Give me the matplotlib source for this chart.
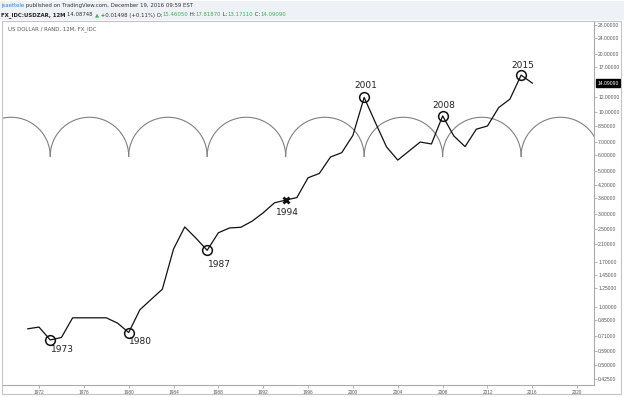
#!/usr/bin/env python3
"""USD/ZAR yearly chart with 7-year cycle arcs (TradingView style)."""

import numpy as np
import matplotlib
matplotlib.use("Agg")
import matplotlib.pyplot as plt
from matplotlib.patches import Rectangle

W, H = 624, 397

# yearly closes
years = list(range(1971, 2017))
closes = [0.77, 0.786, 0.675, 0.695, 0.877, 0.877, 0.877, 0.877, 0.824, 0.737,
          0.965, 1.09, 1.23, 1.98, 2.57, 2.25, 1.95, 2.40, 2.54, 2.56,
          2.75, 3.04, 3.42, 3.53, 3.64, 4.60, 4.84, 5.88, 6.19, 7.60,
          11.9, 8.84, 6.62, 5.67, 6.31, 7.02, 6.86, 9.56, 7.54, 6.65,
          8.17, 8.49, 10.56, 11.66, 15.5, 14.09]

circled_years = [1973, 1980, 1987, 2001, 2008, 2015]
cross_year = 1994

# cycle arcs: cusps every 7 years
cycle_start = 1966
cycle_len = 7
cycle_count = 8
arc_base = 5.93
arc_top = 9.41

y_ticks = [28, 24, 20, 17, 12, 10, 8.5, 7, 6, 5, 4.2, 3.6, 3.0, 2.5, 2.1,
           1.7, 1.45, 1.25, 1.0, 0.85, 0.71, 0.59, 0.5, 0.425]
x_ticks = list(range(1972, 2021, 4))
last_price = 14.0909

GREEN = "#3dae5a"
GREY_TXT = "#555555"
FRAME = "#c4c4c4"


def place_row(fig, x_px, y_px, pieces, size):
    """Draw text pieces one after another on a single line."""
    renderer = fig.canvas.get_renderer()
    x = x_px
    for s, color, weight in pieces:
        t = fig.text(x / W, 1 - y_px / H, s, color=color, fontsize=size,
                     fontweight=weight, ha="left", va="center",
                     family="DejaVu Sans")
        bb = t.get_window_extent(renderer)
        x += bb.width


fig = plt.figure(figsize=(W / 100, H / 100), dpi=100)
fig.patch.set_facecolor("white")

# header band
fig.patches.append(Rectangle((0, 1 - 20 / H), 1, 19 / H, transform=fig.transFigure,
                             facecolor="#eef1f5", edgecolor="none", zorder=0))
# outer frame
fig.patches.append(Rectangle((2 / W, 1 - 394 / H), 619 / W, 373 / H,
                             transform=fig.transFigure, facecolor="none",
                             edgecolor=FRAME, linewidth=0.8, zorder=5))

ax = fig.add_axes([2 / W, 1 - 385 / H, 592 / W, 364 / H])
ax.set_yscale("log")
ax.set_xlim(1968.7, 2021.5)
ax.set_ylim(0.396, 29.4)

# arcs
for k in range(cycle_count):
    c = cycle_start + k * cycle_len
    t = np.linspace(np.pi, 0, 120)
    xs = c + cycle_len / 2 + cycle_len / 2 * np.cos(t)
    ys = np.exp(np.log(arc_base) + np.log(arc_top / arc_base) * np.sin(t))
    ax.plot(xs, ys, color="#808080", lw=0.8, zorder=2)

ax.plot(years, closes, color="#111111", lw=0.9, zorder=3)

cy = [closes[years.index(y)] for y in circled_years]
ax.plot(circled_years, cy, "o", ms=7, mfc="none", mec="#111111", mew=1.1, zorder=4)
ax.plot([cross_year], [closes[years.index(cross_year)]], "x", ms=5, mec="#111111",
        mew=2.0, zorder=4)

label_offsets = {1973: (0.5, -7, "left"), 1980: (0.5, -6.5, "left"),
                 1987: (0.5, -10.3, "left"), 1994: (1, -8.6, "center"),
                 2001: (1, 8.9, "center"), 2008: (1, 7.2, "center"),
                 2015: (1, 7.2, "center")}
for yr, (dx, dy, ha) in label_offsets.items():
    ax.annotate(str(yr), (yr, closes[years.index(yr)]), xytext=(dx, dy),
                textcoords="offset points", ha=ha, va="center", fontsize=6.5,
                color="#222222", family="DejaVu Sans")

# axes styling
for side in ["left", "top"]:
    ax.spines[side].set_visible(False)
for side in ["right", "bottom"]:
    ax.spines[side].set_color("#aaaaaa")
    ax.spines[side].set_linewidth(0.8)

ax.yaxis.tick_right()
ax.set_yticks(y_ticks)
ax.set_yticklabels([f"{v:.5f}" for v in y_ticks])
ax.yaxis.set_minor_locator(matplotlib.ticker.NullLocator())
ax.tick_params(axis="y", which="major", length=2, width=0.5, color="#999999",
               labelsize=3.6, labelcolor=GREY_TXT, pad=1)
ax.set_xticks(x_ticks)
ax.set_xticklabels([str(x) for x in x_ticks])
ax.tick_params(axis="x", length=2, width=0.5, color="#999999", labelsize=3.4,
               labelcolor=GREY_TXT, pad=1.5)
for lab in ax.get_yticklabels() + ax.get_xticklabels():
    lab.set_family("Liberation Sans")

# last price tag
ax.annotate(f"{last_price:.5f}", (1, last_price), xycoords=("axes fraction", "data"),
            xytext=(2.5, 0), textcoords="offset points", ha="left", va="center",
            fontsize=3.6, color="white", family="Liberation Sans",
            bbox=dict(boxstyle="square,pad=0.25", fc="black", ec="black"),
            annotation_clip=False)

ax.text(6 / 592, 1 - 8 / 364, "US DOLLAR / RAND, 12M, FX_IDC", transform=ax.transAxes,
        ha="left", va="center", fontsize=3.9, color=GREY_TXT, family="DejaVu Sans")

fig.canvas.draw()
place_row(fig, 1, 6, [("jsaettele", "#2a8ad4", "normal"),
                      (" published on TradingView.com, December 19, 2016 09:59 EST",
                       "#333333", "normal")], 3.85)
place_row(fig, 1, 15, [("FX_IDC:USDZAR, 12M ", "#222222", "bold"),
                       ("14.08748 ", "#333333", "normal"),
                       ("\u25b2", GREEN, "normal"),
                       (" +0.01498 (+0.11%) O:", "#333333", "normal"),
                       ("15.46050", GREEN, "normal"),
                       (" H:", "#333333", "normal"),
                       ("17.81870", GREEN, "normal"),
                       (" L:", "#333333", "normal"),
                       ("13.17110", GREEN, "normal"),
                       (" C:", "#333333", "normal"),
                       ("14.09090", GREEN, "normal")], 3.85)

fig.savefig("out.png", dpi=100)
